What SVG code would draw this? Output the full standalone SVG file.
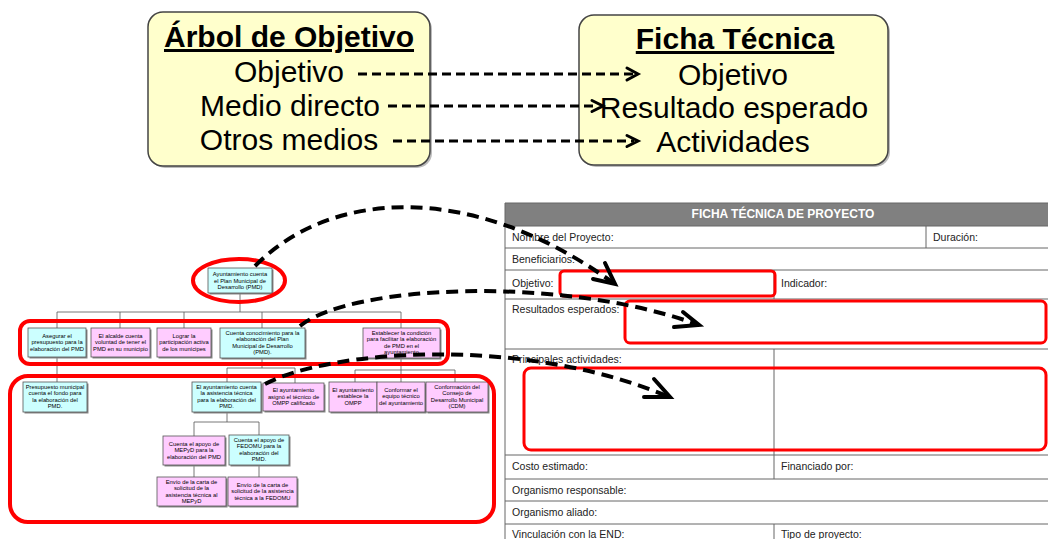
<svg xmlns="http://www.w3.org/2000/svg" width="1048" height="539" viewBox="0 0 1048 539">
<style>
.big{font-family:"Liberation Sans",Arial,sans-serif;font-size:30px;fill:#000;text-anchor:middle}
.ttl{font-weight:bold;text-decoration:underline}
.ybox{fill:#FFFFCC;stroke:#444;stroke-width:1.5}
.yshadow{fill:#bbb}
.dash{fill:none;stroke:#000;stroke-width:3;stroke-dasharray:9 5}
.chev{fill:none;stroke:#000;stroke-width:3;stroke-linecap:round;stroke-linejoin:miter}
.cdash{fill:none;stroke:#000;stroke-width:4;stroke-dasharray:12 7}
.cchev{fill:none;stroke:#000;stroke-width:4;stroke-linecap:round}
.tl{font-family:"Liberation Sans",Arial,sans-serif;font-size:10.5px;fill:#222}
.hd{font-family:"Liberation Sans",Arial,sans-serif;font-size:12px;font-weight:bold;fill:#fff;text-anchor:middle}
.grid{stroke:#666;stroke-width:1;fill:none}
.red{fill:none;stroke:#ff0000;stroke-width:3}
.redt{fill:none;stroke:#ff0000;stroke-width:4}
.cy{fill:#CCFFFF;stroke:#555;stroke-width:0.8}
.pk{fill:#FFCCFF;stroke:#555;stroke-width:0.8}
.sh{fill:#888}
.nt{font-family:"Liberation Sans",Arial,sans-serif;font-size:5.8px;fill:#000;text-anchor:middle}
.tc{stroke:#555;stroke-width:0.8;fill:none}
</style>

<!-- Top left box -->
<g id="arbol">
<rect class="yshadow" x="150" y="14" width="282" height="154" rx="15"/>
<rect class="ybox" x="148" y="12" width="282" height="154" rx="15"/>
<text class="big ttl" x="289" y="47">Árbol de Objetivo</text>
<text class="big" x="289" y="82">Objetivo</text>
<text class="big" x="290" y="116">Medio directo</text>
<text class="big" x="289" y="150">Otros medios</text>
</g>

<!-- Top right box -->
<g id="ficha">
<rect class="yshadow" x="581" y="17" width="309" height="150" rx="15"/>
<rect class="ybox" x="579" y="15" width="309" height="150" rx="15"/>
<text class="big ttl" x="735" y="49">Ficha Técnica</text>
<text class="big" x="733" y="85">Objetivo</text>
<text class="big" x="734" y="118">Resultado esperado</text>
<text class="big" x="733" y="152">Actividades</text>
</g>

<!-- Table -->
<g id="tabla">
<rect x="505" y="203" width="543" height="23" fill="#808080"/>
<text class="hd" x="783" y="218">FICHA TÉCNICA DE PROYECTO</text>
<path class="grid" d="M505 203V539 M505 203H1048 M505 226H1048 M505 248H1048 M505 270H1048 M505 299H1048 M505 349H1048 M505 455H1048 M505 479H1048 M505 501H1048 M505 524H1048 M926 226V248 M774 270V299 M774 349V479 M774 524V539"/>
<text class="tl" x="512" y="241">Nombre del Proyecto:</text>
<text class="tl" x="933" y="241">Duración:</text>
<text class="tl" x="512" y="263">Beneficiarios:</text>
<text class="tl" x="512" y="287">Objetivo:</text>
<text class="tl" x="781" y="287">Indicador:</text>
<text class="tl" x="512" y="313">Resultados esperados:</text>
<text class="tl" x="512" y="363">Principales actividades:</text>
<text class="tl" x="512" y="470">Costo estimado:</text>
<text class="tl" x="781" y="470">Financiado por:</text>
<text class="tl" x="512" y="494">Organismo responsable:</text>
<text class="tl" x="512" y="516">Organismo aliado:</text>
<text class="tl" x="512" y="538">Vinculación con la END:</text>
<text class="tl" x="781" y="538">Tipo de proyecto:</text>
<rect class="red" x="560" y="271" width="215" height="25" rx="4"/>
<rect class="red" x="625" y="301" width="421" height="42" rx="5"/>
<rect class="red" x="524" y="368" width="522" height="82" rx="7"/>
</g>

<!-- Tree connectors -->
<g id="tree-connectors">
<path class="tc" d="M240 293V312 M57 312H401 M57 312V328 M120 312V328 M184 312V328 M262 312V328 M401 312V328 M57 357V382 M262 358V368 M227 368H295 M227 368V382 M295 368V383 M401 357V370 M355 370H455 M355 370V382 M401 370V382 M455 370V382 M227 412V422 M194 422H259 M194 422V436 M259 422V435 M194 465V477 M259 465V477"/>
</g>

<!-- Tree nodes -->
<g id="n-root"><rect class="sh" x="209.5" y="269.5" width="64" height="25"/><rect class="cy" x="208" y="268" width="64" height="25"/>
<text class="nt" x="240" y="276"><tspan x="240">Ayuntamiento cuenta</tspan><tspan x="240" dy="6.5">el Plan Municipal de</tspan><tspan x="240" dy="6.5">Desarrollo (PMD)</tspan></text></g>

<g id="n1"><rect class="sh" x="29.5" y="329.5" width="58" height="29"/><rect class="cy" x="28" y="328" width="58" height="29"/>
<text class="nt" y="337.5"><tspan x="57">Asegurar el</tspan><tspan x="57" dy="6.5">presupuesto para la</tspan><tspan x="57" dy="6.5">elaboración del PMD</tspan></text></g>

<g id="n2"><rect class="sh" x="92.5" y="329.5" width="59" height="29"/><rect class="pk" x="91" y="328" width="59" height="29"/>
<text class="nt" y="337.5"><tspan x="120.5">El alcalde cuenta</tspan><tspan x="120.5" dy="6.5">voluntad de tener el</tspan><tspan x="120.5" dy="6.5">PMD en su municipio</tspan></text></g>

<g id="n3"><rect class="sh" x="158.5" y="329.5" width="54" height="29"/><rect class="pk" x="157" y="328" width="54" height="29"/>
<text class="nt" y="337.5"><tspan x="184">Lograr la</tspan><tspan x="184" dy="6.5">participación activa</tspan><tspan x="184" dy="6.5">de los munícipes</tspan></text></g>

<g id="n4"><rect class="sh" x="221.5" y="329.5" width="85" height="30"/><rect class="cy" x="220" y="328" width="85" height="30"/>
<text class="nt" y="334.8"><tspan x="262.5">Cuenta conocimiento para la</tspan><tspan x="262.5" dy="6.5">elaboración del Plan</tspan><tspan x="262.5" dy="6.5">Municipal de Desarrollo</tspan><tspan x="262.5" dy="6.5">(PMD).</tspan></text></g>

<g id="n5"><rect class="sh" x="364.5" y="329.5" width="77" height="30"/><rect class="pk" x="363" y="328" width="77" height="30"/>
<text class="nt" y="334.8"><tspan x="401.5">Establecer la condición</tspan><tspan x="401.5" dy="6.5">para facilitar la elaboración</tspan><tspan x="401.5" dy="6.5">de PMD en el</tspan><tspan x="401.5" dy="6.5">ayuntamiento</tspan></text></g>

<g id="l2a"><rect class="sh" x="24.5" y="383.5" width="64" height="30"/><rect class="cy" x="23" y="382" width="64" height="30"/>
<text class="nt" y="388.8"><tspan x="55">Presupuesto municipal</tspan><tspan x="55" dy="6.5">cuenta el fondo para</tspan><tspan x="55" dy="6.5">la elaboración del</tspan><tspan x="55" dy="6.5">PMD.</tspan></text></g>

<g id="l2b"><rect class="sh" x="193.5" y="383.5" width="69" height="30"/><rect class="cy" x="192" y="382" width="69" height="30"/>
<text class="nt" y="388.8"><tspan x="226.5">El ayuntamiento cuenta</tspan><tspan x="226.5" dy="6.5">la asistencia técnica</tspan><tspan x="226.5" dy="6.5">para la elaboración del</tspan><tspan x="226.5" dy="6.5">PMD.</tspan></text></g>

<g id="l2c"><rect class="sh" x="264.5" y="384.5" width="61" height="28"/><rect class="pk" x="263" y="383" width="61" height="28"/>
<text class="nt" y="392"><tspan x="293.5">El ayuntamiento</tspan><tspan x="293.5" dy="6.5">asignó el técnico de</tspan><tspan x="293.5" dy="6.5">OMPP calificado</tspan></text></g>

<g id="l2d"><rect class="sh" x="330.5" y="383.5" width="48" height="30"/><rect class="pk" x="329" y="382" width="48" height="30"/>
<text class="nt" y="391.5"><tspan x="353">El ayuntamiento</tspan><tspan x="353" dy="6.5">establece la</tspan><tspan x="353" dy="6.5">OMPP</tspan></text></g>

<g id="l2e"><rect class="sh" x="378.5" y="383.5" width="48" height="30"/><rect class="pk" x="377" y="382" width="48" height="30"/>
<text class="nt" y="391.5"><tspan x="401">Conformar el</tspan><tspan x="401" dy="6.5">equipo técnico</tspan><tspan x="401" dy="6.5">del ayuntamiento</tspan></text></g>

<g id="l2f"><rect class="sh" x="427.5" y="383.5" width="62" height="30"/><rect class="pk" x="426" y="382" width="62" height="30"/>
<text class="nt" y="388.8"><tspan x="457">Conformación del</tspan><tspan x="457" dy="6.5">Consejo de</tspan><tspan x="457" dy="6.5">Desarrollo Municipal</tspan><tspan x="457" dy="6.5">(CDM)</tspan></text></g>

<g id="l3a"><rect class="sh" x="164.5" y="437.5" width="62" height="29"/><rect class="pk" x="163" y="436" width="62" height="29"/>
<text class="nt" y="445.5"><tspan x="194">Cuenta el apoyo de</tspan><tspan x="194" dy="6.5">MEPyD para la</tspan><tspan x="194" dy="6.5">elaboración del PMD</tspan></text></g>

<g id="l3b"><rect class="sh" x="230.5" y="436.5" width="60" height="30"/><rect class="cy" x="229" y="435" width="60" height="30"/>
<text class="nt" y="441.8"><tspan x="259">Cuenta el apoyo de</tspan><tspan x="259" dy="6.5">FEDOMU para la</tspan><tspan x="259" dy="6.5">elaboración del</tspan><tspan x="259" dy="6.5">PMD.</tspan></text></g>

<g id="l4a"><rect class="sh" x="158.5" y="478.5" width="69" height="29"/><rect class="pk" x="157" y="477" width="69" height="29"/>
<text class="nt" y="483.5"><tspan x="191.5">Envío de la carta de</tspan><tspan x="191.5" dy="6.5">solicitud de la</tspan><tspan x="191.5" dy="6.5">asistencia técnica al</tspan><tspan x="191.5" dy="6.5">MEPyD</tspan></text></g>

<g id="l4b"><rect class="sh" x="229.5" y="478.5" width="69" height="29"/><rect class="pk" x="228" y="477" width="69" height="29"/>
<text class="nt" y="486.5"><tspan x="262.5">Envío de la carta de</tspan><tspan x="262.5" dy="6.5">solicitud de la asistencia</tspan><tspan x="262.5" dy="6.5">técnica a la FEDOMU</tspan></text></g>

<!-- Red highlights on tree -->
<g id="tree-highlights">
<ellipse class="redt" cx="239" cy="280.5" rx="46" ry="21.5"/>
<rect class="redt" x="20" y="321" width="428" height="43" rx="10"/>
<rect class="redt" x="10" y="376" width="484" height="146" rx="18"/>
</g>

<!-- Connectors -->
<g id="connectors">
<path class="dash" d="M358 74H634"/>
<path class="chev" d="M627 68L638 74L627 80"/>
<path class="dash" d="M388 106H598"/>
<path class="chev" d="M592 100.5L603 106L592 111.5"/>
<path class="dash" d="M393 141H634"/>
<path class="chev" d="M627 135.5L638 141L627 146.5"/>

<path class="cdash" d="M255 266C330 190 470 180 612 282"/>
<path class="cchev" d="M605 263L615 284L593 279"/>
<path class="cdash" d="M300 326C350 285 560 275 696 324"/>
<path class="cchev" d="M683 312L699 325L674 327"/>
<path class="cdash" d="M265 384C330 350 520 335 667 396"/>
<path class="cchev" d="M654 379L670 397L644 397"/>
</g>
</svg>
